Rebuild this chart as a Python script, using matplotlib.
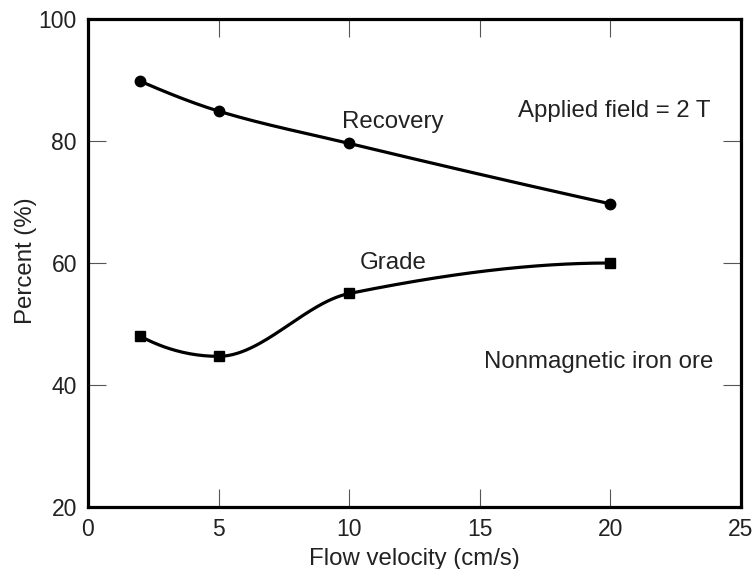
import matplotlib.pyplot as plt
import numpy as np

plt.rcParams['font.family'] = ['Liberation Sans', 'DejaVu Sans']

velocity = [2, 5, 10, 20]
recovery = [89.8, 84.9, 79.6, 69.7]
grade = [48.0, 44.7, 55.0, 60.0]


def pchip(x, y, n=200):
    # smooth monotone cubic through the points, only for drawing the line
    x = np.asarray(x, float)
    y = np.asarray(y, float)
    h = np.diff(x)
    d = np.diff(y) / h
    m = np.zeros_like(y)
    for k in range(1, len(x) - 1):
        if d[k - 1] * d[k] > 0:
            w1 = 2 * h[k] + h[k - 1]
            w2 = h[k] + 2 * h[k - 1]
            m[k] = (w1 + w2) / (w1 / d[k - 1] + w2 / d[k])
    m[0] = ((2 * h[0] + h[1]) * d[0] - h[0] * d[1]) / (h[0] + h[1])
    if np.sign(m[0]) != np.sign(d[0]):
        m[0] = 0
    m[-1] = ((2 * h[-1] + h[-2]) * d[-1] - h[-1] * d[-2]) / (h[-1] + h[-2])
    if np.sign(m[-1]) != np.sign(d[-1]):
        m[-1] = 0
    xs = np.linspace(x[0], x[-1], n)
    idx = np.clip(np.searchsorted(x, xs) - 1, 0, len(x) - 2)
    t = (xs - x[idx]) / h[idx]
    h00 = 2 * t**3 - 3 * t**2 + 1
    h10 = t**3 - 2 * t**2 + t
    h01 = -2 * t**3 + 3 * t**2
    h11 = t**3 - t**2
    ys = h00 * y[idx] + h10 * h[idx] * m[idx] + h01 * y[idx + 1] + h11 * h[idx] * m[idx + 1]
    return xs, ys


fs = 16.5
fs2 = 17.3
tc = '#222222'

fig = plt.figure(figsize=(7.54, 5.69), dpi=100)
ax = fig.add_axes([88 / 754, 62 / 569, 653 / 754, 488 / 569])

xs, ys = pchip(velocity, recovery)
ax.plot(xs, ys, color='black', lw=2.3)
ax.plot(velocity, recovery, 'o', color='black', ms=7.5)

xs, ys = pchip(velocity, grade)
ax.plot(xs, ys, color='black', lw=2.3)
ax.plot(velocity, grade, 's', color='black', ms=6.5)

ax.set_xlim(0, 25)
ax.set_ylim(20, 100)
ax.set_xticks([0, 5, 10, 15, 20, 25])
ax.set_yticks([20, 40, 60, 80, 100])
ax.tick_params(direction='in', length=13, width=0.8, color='#555555',
               top=True, right=True, labelsize=fs, labelcolor=tc)
ax.tick_params(axis='x', pad=8)
ax.tick_params(axis='y', pad=8)
for s in ax.spines.values():
    s.set_linewidth(2.3)

ax.set_xlabel('Flow velocity (cm/s)', fontsize=fs2, color=tc)
ax.set_ylabel('Percent (%)', fontsize=fs2, color=tc)
ax.xaxis.set_label_coords(0.5, -0.085)
ax.yaxis.set_label_coords(-0.078, 0.504)

ax.text(11.68, 83.1, 'Recovery', fontsize=fs2, ha='center', va='center', color=tc)
ax.text(20.14, 84.9, 'Applied field = 2 T', fontsize=fs2, ha='center', va='center', color=tc)
ax.text(11.68, 60.0, 'Grade', fontsize=fs2, ha='center', va='center', color=tc)
ax.text(19.56, 43.8, 'Nonmagnetic iron ore', fontsize=fs2, ha='center', va='center', color=tc)

plt.savefig('out.png', dpi=100)
